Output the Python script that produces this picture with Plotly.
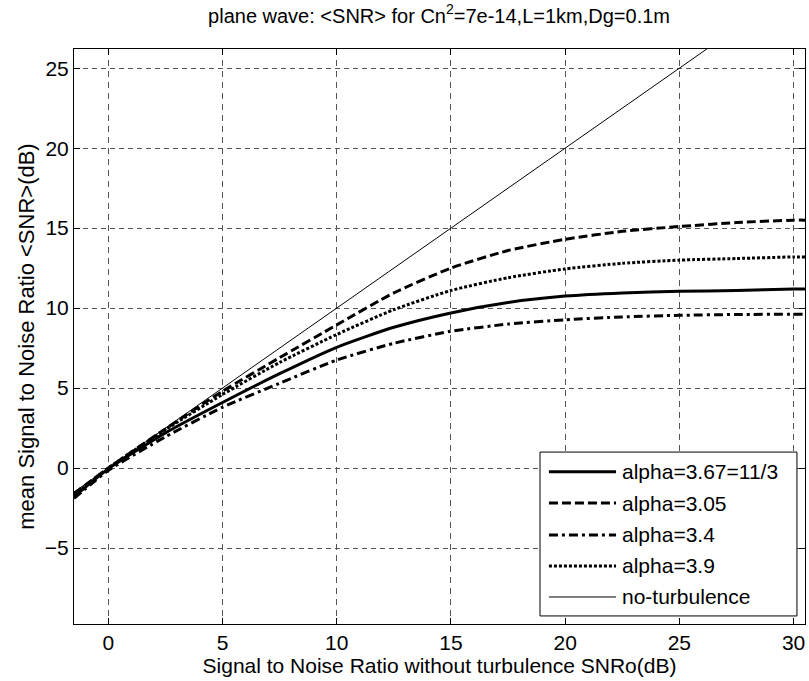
import plotly.graph_objects as go

# ---- data ----
snr0 = [-1.5, 0, 2.5, 5, 7.5, 10, 12.5, 15, 17.5, 20, 22.5, 25, 27.5, 30, 30.5]
alpha_367 = [-1.8, -0.05, 2.2, 4.1, 5.9, 7.55, 8.8, 9.7, 10.35, 10.75, 10.95, 11.05, 11.1, 11.2, 11.2]
alpha_305 = [-1.6, 0.0, 2.45, 4.8, 6.9, 8.95, 10.95, 12.5, 13.6, 14.3, 14.8, 15.1, 15.35, 15.5, 15.5]
alpha_34 = [-1.9, -0.15, 1.95, 3.8, 5.3, 6.75, 7.8, 8.55, 9.0, 9.27, 9.45, 9.55, 9.6, 9.62, 9.62]
alpha_39 = [-1.7, 0.0, 2.4, 4.6, 6.6, 8.35, 9.9, 11.1, 11.9, 12.45, 12.8, 13.0, 13.1, 13.2, 13.2]
no_turb_x = [-1.5, 30.5]
no_turb_y = [-1.5, 30.5]

legend_labels = ["alpha=3.67=11/3", "alpha=3.05", "alpha=3.4", "alpha=3.9", "no-turbulence"]
x_ticks = [0, 5, 10, 15, 20, 25, 30]
y_ticks = [-5, 0, 5, 10, 15, 20, 25]

FONT = "Liberation Sans, Arial, sans-serif"
styles = [
    dict(width=3, dash="solid"),
    dict(width=3, dash="9px,4px"),
    dict(width=3, dash="9px,4px,3px,4px"),
    dict(width=3, dash="3px,2px"),
    dict(width=1, dash="solid"),
]

fig = go.Figure()
series = [alpha_367, alpha_305, alpha_34, alpha_39]
for vals, st, name in zip(series, styles[:4], legend_labels[:4]):
    fig.add_trace(go.Scatter(x=snr0, y=vals, mode="lines", name=name,
                             line=dict(color="black", width=st["width"], dash=st["dash"], shape="spline", smoothing=0.6),
                             showlegend=False))
fig.add_trace(go.Scatter(x=no_turb_x, y=no_turb_y, mode="lines", name=legend_labels[4],
                         line=dict(color="black", width=1), showlegend=False))

axis_common = dict(
    showline=True, linecolor="black", linewidth=1, mirror="ticks",
    ticks="inside", ticklen=6, tickcolor="black",
    showgrid=True, gridcolor="#555555", gridwidth=1,
    zeroline=False,
    tickfont=dict(family=FONT, size=21, color="black"),
)
fig.update_xaxes(range=[-1.5, 30.5], tickvals=x_ticks, griddash="6px,5px",
                 title=dict(text="Signal to Noise Ratio without turbulence SNRo(dB)",
                            font=dict(family=FONT, size=21, color="black"), standoff=2),
                 **axis_common)
fig.update_yaxes(range=[-9.75, 26.2], tickvals=y_ticks, griddash="5px,4px",
                 title=dict(text="mean Signal to Noise Ratio &lt;SNR&gt;(dB)",
                            font=dict(family=FONT, size=22, color="black"), standoff=4),
                 **axis_common)

# ---- legend box drawn manually (MATLAB style) ----
lx0, lx1, ly0, ly1 = 0.6375, 0.989, 0.014, 0.299
fig.add_shape(type="rect", xref="paper", yref="paper", x0=lx0, x1=lx1, y0=ly0, y1=ly1,
              line=dict(color="black", width=1), fillcolor="white", layer="above")
row_y = [0.2649, 0.2104, 0.1548, 0.1009, 0.0470]
for lab, st, yy in zip(legend_labels, styles, row_y):
    fig.add_shape(type="line", xref="paper", yref="paper", x0=0.6497, x1=0.7415, y0=yy, y1=yy,
                  line=dict(color="black", width=st["width"], dash=st["dash"]), layer="above")
    fig.add_annotation(xref="paper", yref="paper", x=0.747, y=yy, text=lab, showarrow=False,
                       xanchor="left", yanchor="middle",
                       font=dict(family=FONT, size=21, color="black"))

fig.update_layout(
    width=809, height=681,
    margin=dict(l=74, r=4, t=49, b=57),
    paper_bgcolor="white", plot_bgcolor="white",
    title=dict(text="plane wave: &lt;SNR&gt; for Cn<sup>2</sup>=7e-14,L=1km,Dg=0.1m",
               x=0.5427, xanchor="center", y=0.977, yanchor="middle",
               font=dict(family=FONT, size=20, color="black")),
    showlegend=False,
)

fig.write_html("out.html", config={"displayModeBar": False},
               post_script="document.body.style.margin='0';")
